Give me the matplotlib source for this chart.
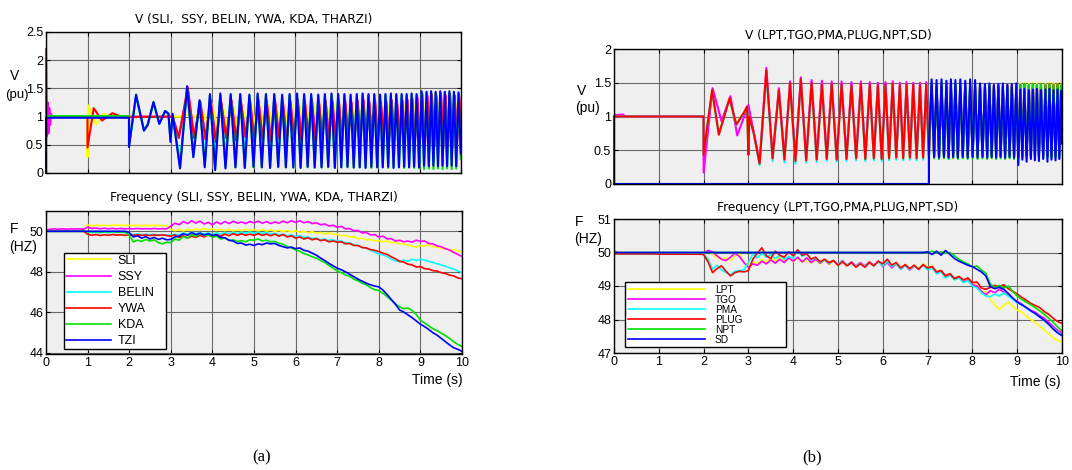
import numpy as np
import matplotlib
matplotlib.use("Agg")
import matplotlib.pyplot as plt
from matplotlib.ticker import FormatStrFormatter

# ---------------------------------------------------------------- data
# time grid of the frequency traces (s)
t_freq = np.linspace(0.0, 10.0, 101)

# (a) frequency traces, Hz, sampled every 0.1 s
a_sli_f = [50.00, 50.00, 50.00, 50.00, 50.00, 50.00, 50.00, 50.00, 50.00, 50.00,
           50.32, 50.26, 50.31, 50.28, 50.30, 50.28, 50.30, 50.29, 50.31, 50.28,
           50.29, 50.28, 50.30, 50.27, 50.29, 50.28, 50.30, 50.28, 50.29, 50.27,
           50.10, 50.03, 50.08, 50.02, 50.09, 50.04, 50.12, 50.06, 50.14, 50.07,
           50.12, 50.04, 50.10, 50.03, 50.09, 50.02, 50.08, 50.03, 50.10, 50.04,
           50.09, 50.02, 50.08, 50.01, 50.07, 50.00, 50.05, 49.99, 50.04, 49.97,
           50.02, 49.95, 50.00, 49.93, 49.98, 49.90, 49.94, 49.87, 49.92, 49.84,
           49.86, 49.78, 49.80, 49.72, 49.74, 49.64, 49.66, 49.57, 49.60, 49.52,
           49.55, 49.48, 49.52, 49.44, 49.46, 49.38, 49.40, 49.30, 49.28, 49.22,
           49.30, 49.26, 49.34, 49.22, 49.24, 49.14, 49.16, 49.06, 49.10, 49.02,
           48.98]
a_ssy_f = [50.05, 50.10, 50.12, 50.10, 50.12, 50.10, 50.12, 50.11, 50.12, 50.10,
           50.20, 50.14, 50.16, 50.12, 50.15, 50.12, 50.14, 50.12, 50.14, 50.12,
           50.13, 50.12, 50.14, 50.12, 50.13, 50.12, 50.14, 50.12, 50.13, 50.12,
           50.25, 50.40, 50.32, 50.48, 50.38, 50.52, 50.40, 50.50, 50.36, 50.44,
           50.32, 50.46, 50.36, 50.48, 50.38, 50.50, 50.40, 50.46, 50.38, 50.48,
           50.42, 50.50, 50.40, 50.48, 50.38, 50.46, 50.40, 50.50, 50.42, 50.52,
           50.44, 50.52, 50.42, 50.48, 50.38, 50.42, 50.32, 50.36, 50.26, 50.30,
           50.20, 50.24, 50.12, 50.14, 50.02, 50.04, 49.92, 49.94, 49.82, 49.84,
           49.72, 49.76, 49.62, 49.64, 49.52, 49.56, 49.48, 49.52, 49.46, 49.56,
           49.50, 49.52, 49.40, 49.38, 49.28, 49.24, 49.14, 49.08, 48.96, 48.86,
           48.76]
a_belin_f = [50.00, 50.00, 50.00, 50.00, 50.00, 50.00, 50.00, 50.00, 50.00, 50.00,
             49.96, 49.94, 49.95, 49.93, 49.95, 49.93, 49.95, 49.94, 49.95, 49.93,
             49.86, 49.84, 49.86, 49.83, 49.85, 49.83, 49.85, 49.82, 49.84, 49.82,
             49.80, 49.86, 49.82, 49.92, 49.85, 49.96, 49.88, 49.94, 49.86, 49.92,
             49.84, 49.92, 49.86, 49.94, 49.88, 49.95, 49.88, 49.96, 49.90, 49.97,
             49.90, 49.96, 49.88, 49.94, 49.86, 49.90, 49.82, 49.86, 49.78, 49.82,
             49.74, 49.78, 49.70, 49.72, 49.64, 49.66, 49.58, 49.62, 49.54, 49.58,
             49.50, 49.52, 49.44, 49.42, 49.34, 49.30, 49.20, 49.16, 49.06, 48.98,
             48.88, 48.84, 48.76, 48.62, 48.54, 48.50, 48.58, 48.52, 48.62, 48.56,
             48.62, 48.58, 48.52, 48.46, 48.40, 48.34, 48.28, 48.20, 48.14, 48.04,
             47.96]
a_ywa_f = [50.00, 50.00, 50.00, 50.00, 50.00, 50.00, 50.00, 50.00, 50.00, 50.00,
           49.86, 49.80, 49.84, 49.79, 49.83, 49.80, 49.84, 49.81, 49.83, 49.80,
           49.82, 49.80, 49.83, 49.80, 49.82, 49.79, 49.82, 49.80, 49.82, 49.79,
           49.76, 49.82, 49.70, 49.78, 49.66, 49.76, 49.70, 49.80, 49.72, 49.82,
           49.74, 49.84, 49.76, 49.86, 49.78, 49.88, 49.80, 49.88, 49.80, 49.86,
           49.80, 49.88, 49.80, 49.86, 49.78, 49.86, 49.76, 49.84, 49.72, 49.78,
           49.66, 49.72, 49.62, 49.68, 49.58, 49.64, 49.54, 49.58, 49.48, 49.52,
           49.46, 49.48, 49.38, 49.40, 49.30, 49.30, 49.20, 49.18, 49.10, 49.06,
           49.00, 48.92, 48.86, 48.74, 48.64, 48.52, 48.48, 48.38, 48.34, 48.24,
           48.26, 48.16, 48.14, 48.06, 48.04, 47.96, 47.92, 47.84, 47.80, 47.70,
           47.66]
a_kda_f = [50.00, 50.00, 50.00, 50.00, 50.00, 50.00, 50.00, 50.00, 50.00, 50.00,
           49.98, 49.97, 49.98, 49.96, 49.98, 49.97, 49.98, 49.96, 49.97, 49.96,
           49.80, 49.48, 49.56, 49.50, 49.60, 49.52, 49.58, 49.44, 49.38, 49.46,
           49.44, 49.62, 49.56, 49.74, 49.66, 49.84, 49.74, 49.90, 49.78, 49.82,
           49.70, 49.76, 49.62, 49.68, 49.54, 49.58, 49.50, 49.54, 49.48, 49.58,
           49.56, 49.62, 49.52, 49.56, 49.48, 49.50, 49.40, 49.36, 49.24, 49.18,
           49.08, 49.02, 48.90, 48.84, 48.74, 48.68, 48.56, 48.46, 48.32, 48.18,
           48.04, 47.96, 47.84, 47.78, 47.64, 47.56, 47.44, 47.36, 47.22, 47.12,
           47.08, 46.94, 46.78, 46.60, 46.42, 46.28, 46.18, 46.22, 46.10, 45.90,
           45.62, 45.48, 45.34, 45.20, 45.10, 44.98, 44.86, 44.72, 44.56, 44.42,
           44.32]
a_tzi_f = [50.00, 50.00, 50.00, 50.00, 50.00, 50.00, 50.00, 50.00, 50.00, 50.00,
           50.00, 50.00, 50.00, 50.00, 50.00, 50.00, 50.00, 50.00, 50.00, 50.00,
           49.94, 49.72, 49.78, 49.66, 49.74, 49.62, 49.70, 49.60, 49.66, 49.58,
           49.60, 49.72, 49.76, 49.88, 49.80, 49.94, 49.84, 49.90, 49.82, 49.88,
           49.80, 49.82, 49.70, 49.68, 49.56, 49.52, 49.40, 49.42, 49.32, 49.36,
           49.30, 49.38, 49.34, 49.42, 49.38, 49.40, 49.30, 49.24, 49.18, 49.22,
           49.14, 49.18, 49.06, 49.02, 48.92, 48.82, 48.68, 48.56, 48.42, 48.30,
           48.18, 48.10, 48.00, 47.88, 47.76, 47.64, 47.54, 47.44, 47.36, 47.30,
           47.26, 47.10, 46.88, 46.64, 46.40, 46.12, 46.02, 45.88, 45.74, 45.58,
           45.42, 45.30, 45.16, 45.00, 44.88, 44.72, 44.56, 44.40, 44.26, 44.18,
           44.08]

# (b) frequency traces, Hz, sampled every 0.1 s
b_lpt_f = [49.96, 49.96, 49.96, 49.96, 49.96, 49.96, 49.96, 49.96, 49.96, 49.96,
           49.96, 49.96, 49.96, 49.96, 49.96, 49.96, 49.96, 49.96, 49.96, 49.96,
           49.98, 50.04, 49.96, 49.86, 49.78, 49.84, 49.76, 49.90, 49.96, 49.70,
           49.60, 49.72, 49.66, 49.80, 49.70, 49.84, 49.74, 49.88, 49.76, 49.86,
           49.72, 49.84, 49.70, 49.80, 49.68, 49.78, 49.66, 49.76, 49.64, 49.74,
           49.62, 49.74, 49.60, 49.72, 49.58, 49.70, 49.60, 49.72, 49.62, 49.74,
           49.60, 49.72, 49.56, 49.66, 49.52, 49.64, 49.50, 49.62, 49.52, 49.66,
           49.54, 49.60, 49.40, 49.48, 49.30, 49.38, 49.22, 49.30, 49.14, 49.20,
           49.06, 49.02, 48.86, 48.82, 48.60, 48.44, 48.30, 48.42, 48.52, 48.40,
           48.28, 48.22, 48.10, 48.00, 47.92, 47.80, 47.70, 47.58, 47.46, 47.38,
           47.32]
b_tgo_f = [50.05, 49.98, 49.97, 49.97, 49.97, 49.97, 49.97, 49.97, 49.97, 49.97,
           49.97, 49.97, 49.97, 49.97, 49.97, 49.97, 49.97, 49.97, 49.97, 49.97,
           49.98, 50.06, 50.02, 49.90, 49.80, 49.76, 49.86, 49.98, 49.88, 49.70,
           49.56, 49.66, 49.62, 49.74, 49.66, 49.78, 49.68, 49.80, 49.70, 49.84,
           49.74, 49.86, 49.72, 49.84, 49.70, 49.80, 49.68, 49.78, 49.66, 49.76,
           49.64, 49.76, 49.62, 49.72, 49.60, 49.70, 49.60, 49.72, 49.62, 49.74,
           49.58, 49.70, 49.54, 49.66, 49.50, 49.62, 49.48, 49.60, 49.50, 49.62,
           49.50, 49.56, 49.40, 49.46, 49.30, 49.36, 49.22, 49.28, 49.12, 49.18,
           49.04, 49.00, 48.84, 48.74, 48.86, 48.80, 48.90, 48.82, 48.72, 48.62,
           48.54, 48.46, 48.36, 48.28, 48.22, 48.12, 48.04, 47.92, 47.80, 47.68,
           47.60]
b_pma_f = [49.96, 49.96, 49.96, 49.96, 49.96, 49.96, 49.96, 49.96, 49.96, 49.96,
           49.96, 49.96, 49.96, 49.96, 49.96, 49.96, 49.96, 49.96, 49.96, 49.96,
           49.96, 49.80, 49.50, 49.62, 49.48, 49.40, 49.34, 49.44, 49.46, 49.48,
           49.70, 49.96, 49.84, 49.98, 49.86, 49.94, 49.82, 49.92, 49.80, 49.88,
           49.82, 50.06, 49.88, 49.96, 49.78, 49.84, 49.70, 49.78, 49.68, 49.76,
           49.64, 49.74, 49.62, 49.70, 49.58, 49.68, 49.58, 49.70, 49.60, 49.72,
           49.60, 49.74, 49.58, 49.66, 49.50, 49.62, 49.50, 49.60, 49.50, 49.62,
           49.48, 49.54, 49.36, 49.42, 49.24, 49.32, 49.18, 49.24, 49.10, 49.16,
           49.00, 48.94, 48.80, 48.70, 48.68, 48.76, 48.70, 48.80, 48.70, 48.60,
           48.50, 48.44, 48.34, 48.26, 48.18, 48.08, 47.98, 47.86, 47.74, 47.62,
           47.52]
b_plug_f = [49.96, 49.96, 49.96, 49.96, 49.96, 49.96, 49.96, 49.96, 49.96, 49.96,
            49.95, 49.95, 49.95, 49.95, 49.95, 49.95, 49.95, 49.95, 49.95, 49.95,
            49.94, 49.72, 49.40, 49.52, 49.60, 49.44, 49.30, 49.40, 49.44, 49.42,
            49.46, 49.80, 49.98, 50.14, 49.90, 49.82, 50.04, 49.92, 49.86, 50.02,
            49.90, 50.08, 49.92, 49.96, 49.80, 49.86, 49.72, 49.80, 49.70, 49.76,
            49.62, 49.72, 49.60, 49.70, 49.56, 49.66, 49.56, 49.70, 49.60, 49.74,
            49.66, 49.80, 49.62, 49.70, 49.54, 49.64, 49.52, 49.62, 49.50, 49.64,
            49.54, 49.58, 49.42, 49.46, 49.30, 49.36, 49.22, 49.28, 49.18, 49.24,
            49.10, 49.12, 48.94, 48.90, 48.96, 49.02, 48.98, 49.04, 48.92, 48.84,
            48.76, 48.66, 48.58, 48.48, 48.42, 48.36, 48.24, 48.16, 48.04, 47.94,
            47.88]
b_npt_f = [50.00, 50.00, 50.00, 50.00, 50.00, 50.00, 50.00, 50.00, 50.00, 50.00,
           50.00, 50.00, 50.00, 50.00, 50.00, 50.00, 50.00, 50.00, 50.00, 50.00,
           50.00, 50.00, 50.00, 50.00, 50.00, 50.00, 50.00, 50.00, 50.00, 50.00,
           50.00, 50.00, 50.00, 50.00, 50.00, 50.00, 50.00, 50.00, 50.00, 50.00,
           50.00, 50.00, 50.00, 50.00, 50.00, 50.00, 50.00, 50.00, 50.00, 50.00,
           50.00, 50.00, 50.00, 50.00, 50.00, 50.00, 50.00, 50.00, 50.00, 50.00,
           50.00, 50.00, 50.00, 50.00, 50.00, 50.00, 50.00, 50.00, 50.00, 50.00,
           50.00, 50.04, 49.98, 50.02, 49.98, 50.00, 49.90, 49.80, 49.72, 49.66,
           49.56, 49.60, 49.48, 49.38, 49.06, 48.96, 49.02, 48.94, 49.00, 48.84,
           48.70, 48.60, 48.52, 48.44, 48.36, 48.26, 48.16, 48.04, 47.92, 47.78,
           47.66]
b_sd_f = [50.00, 50.00, 50.00, 50.00, 50.00, 50.00, 50.00, 50.00, 50.00, 50.00,
          50.00, 50.00, 50.00, 50.00, 50.00, 50.00, 50.00, 50.00, 50.00, 50.00,
          50.00, 50.00, 50.00, 50.00, 50.00, 50.00, 50.00, 50.00, 50.00, 50.00,
          50.00, 50.00, 50.00, 50.00, 50.00, 50.00, 50.00, 50.00, 50.00, 50.00,
          50.00, 50.00, 50.00, 50.00, 50.00, 50.00, 50.00, 50.00, 50.00, 50.00,
          50.00, 50.00, 50.00, 50.00, 50.00, 50.00, 50.00, 50.00, 50.00, 50.00,
          50.00, 50.00, 50.00, 50.00, 50.00, 50.00, 50.00, 50.00, 50.00, 50.00,
          50.02, 49.94, 50.04, 49.92, 50.06, 49.94, 49.82, 49.74, 49.68, 49.62,
          49.58, 49.50, 49.42, 49.30, 48.98, 48.92, 48.96, 48.90, 48.78, 48.64,
          48.52, 48.44, 48.36, 48.26, 48.18, 48.08, 47.98, 47.86, 47.72, 47.60,
          47.52]

# (a) voltage: transient before the sustained swing (time s, value pu)
a_sli_pre_t = [0.0, 1.0, 1.0, 1.02, 1.2, 1.4, 1.6, 1.8, 3.25]
a_sli_pre_v = [1.0, 1.0, 0.28, 1.2, 0.86, 1.05, 0.97, 1.0, 1.0]
a_ssy_pre_t = [0.0, 0.0, 0.02, 0.04, 0.06, 0.08, 0.10, 0.12, 0.15, 3.05, 3.2]
a_ssy_pre_v = [1.0, 2.2, 0.65, 1.25, 0.7, 1.15, 0.85, 1.05, 1.0, 1.0, 0.65]
a_belin_pre_t = [0.0, 2.0, 2.0, 2.17, 2.36, 2.45, 2.59, 2.73, 2.87, 2.95, 3.0, 3.05, 3.23]
a_belin_pre_v = [1.0, 1.0, 0.48, 1.36, 0.77, 0.86, 1.24, 0.88, 1.09, 1.06, 0.6, 1.02, 0.2]
a_ywa_pre_t = [0.0, 1.0, 1.0, 1.15, 1.35, 1.6, 1.85, 3.05, 3.2]
a_ywa_pre_v = [1.0, 1.0, 0.45, 1.15, 0.93, 1.06, 0.99, 1.0, 0.62]
a_kda_pre_t = [0.0, 2.0, 2.0, 2.17, 2.36, 2.45, 2.59, 2.73, 2.87, 2.95, 3.0, 3.05, 3.23]
a_kda_pre_v = [1.01, 1.01, 0.5, 1.37, 0.76, 0.86, 1.25, 0.88, 1.1, 1.06, 0.57, 1.04, 0.1]
a_tzi_pre_t = [0.0, 0.0, 0.03, 2.0, 2.0, 2.17, 2.36, 2.45, 2.59, 2.73, 2.87, 2.95, 3.0, 3.05, 3.23]
a_tzi_pre_v = [0.0, 0.98, 0.98, 0.98, 0.46, 1.39, 0.75, 0.85, 1.26, 0.87, 1.1, 1.05, 0.55, 1.05, 0.08]

# (a) voltage swing: crest times (s), crest and dip values (pu)
a_peak_t = [3.40, 3.70, 3.95, 4.20, 4.45, 4.68, 4.90, 5.10, 5.30, 5.50,
            5.69, 5.87, 6.05, 6.22, 6.39, 6.56, 6.72, 6.88, 7.04, 7.19,
            7.34, 7.49, 7.63, 7.77, 7.91, 8.05, 8.18, 8.31, 8.44, 8.57,
            8.69, 8.81, 8.93, 9.05, 9.17, 9.28, 9.39, 9.50, 9.61, 9.72,
            9.83, 9.94]
a_sli_pk = [1.05, 1.15, 1.22, 1.22, 1.20, 1.22, 1.21, 1.20, 1.22, 1.21,
            1.20, 1.22, 1.21, 1.20, 1.22, 1.21, 1.20, 1.22, 1.21, 1.20,
            1.22, 1.21, 1.20, 1.22, 1.21, 1.20, 1.22, 1.21, 1.20, 1.22,
            1.21, 1.22, 1.23, 1.26, 1.25, 1.26, 1.25, 1.26, 1.25, 1.26,
            1.25, 1.24]
a_sli_tr = [0.98, 0.90, 0.82, 0.80, 0.82, 0.80, 0.83, 0.80, 0.82, 0.80,
            0.83, 0.80, 0.82, 0.80, 0.83, 0.80, 0.82, 0.80, 0.83, 0.80,
            0.82, 0.80, 0.83, 0.80, 0.82, 0.80, 0.83, 0.80, 0.82, 0.80,
            0.80, 0.78, 0.76, 0.72, 0.74, 0.72, 0.74, 0.72, 0.74, 0.72,
            0.74, 0.85]
a_ssy_pk = [1.48, 1.25, 1.28, 1.26, 1.28, 1.25, 1.27, 1.29, 1.26, 1.28,
            1.25, 1.27, 1.28, 1.26, 1.29, 1.25, 1.27, 1.28, 1.26, 1.28,
            1.25, 1.27, 1.29, 1.26, 1.28, 1.25, 1.27, 1.28, 1.26, 1.28,
            1.29, 1.31, 1.33, 1.38, 1.36, 1.37, 1.35, 1.38, 1.36, 1.37,
            1.35, 1.34]
a_ssy_tr = [0.64, 0.62, 0.58, 0.64, 0.60, 0.66, 0.58, 0.62, 0.60, 0.65,
            0.58, 0.62, 0.60, 0.64, 0.58, 0.62, 0.60, 0.65, 0.58, 0.62,
            0.60, 0.64, 0.58, 0.62, 0.60, 0.65, 0.58, 0.62, 0.60, 0.64,
            0.58, 0.54, 0.52, 0.46, 0.49, 0.47, 0.50, 0.46, 0.49, 0.47,
            0.50, 0.62]
a_belin_pk = [1.45, 1.25, 1.33, 1.35, 1.34, 1.35, 1.34, 1.35, 1.34, 1.35,
              1.34, 1.35, 1.34, 1.35, 1.34, 1.35, 1.34, 1.35, 1.34, 1.35,
              1.34, 1.35, 1.34, 1.35, 1.34, 1.35, 1.34, 1.35, 1.34, 1.35,
              1.34, 1.35, 1.36, 1.40, 1.39, 1.40, 1.39, 1.40, 1.39, 1.40,
              1.39, 1.38]
a_belin_tr = [0.35, 0.30, 0.25, 0.30, 0.35, 0.40, 0.42, 0.40, 0.44, 0.42,
              0.45, 0.40, 0.43, 0.45, 0.42, 0.44, 0.40, 0.43, 0.45, 0.42,
              0.40, 0.44, 0.42, 0.45, 0.41, 0.43, 0.40, 0.44, 0.42, 0.40,
              0.38, 0.35, 0.30, 0.25, 0.28, 0.24, 0.26, 0.25, 0.28, 0.24,
              0.26, 0.35]
a_ywa_pk = [1.52, 1.27, 1.30, 1.28, 1.30, 1.27, 1.29, 1.31, 1.28, 1.30,
            1.27, 1.29, 1.30, 1.28, 1.31, 1.27, 1.29, 1.30, 1.28, 1.30,
            1.27, 1.29, 1.31, 1.28, 1.30, 1.27, 1.29, 1.30, 1.28, 1.30,
            1.31, 1.33, 1.35, 1.41, 1.39, 1.40, 1.38, 1.41, 1.39, 1.40,
            1.38, 1.37]
a_ywa_tr = [0.62, 0.60, 0.55, 0.62, 0.58, 0.64, 0.55, 0.60, 0.57, 0.63,
            0.55, 0.60, 0.58, 0.62, 0.56, 0.60, 0.58, 0.63, 0.55, 0.60,
            0.57, 0.62, 0.56, 0.60, 0.58, 0.63, 0.55, 0.60, 0.57, 0.62,
            0.56, 0.52, 0.50, 0.44, 0.47, 0.45, 0.48, 0.44, 0.47, 0.45,
            0.48, 0.60]
a_kda_pk = [1.50, 1.27, 1.38, 1.39, 1.38, 1.38, 1.37, 1.39, 1.38, 1.38,
            1.37, 1.38, 1.39, 1.38, 1.38, 1.37, 1.38, 1.39, 1.38, 1.38,
            1.37, 1.38, 1.39, 1.38, 1.38, 1.37, 1.38, 1.39, 1.38, 1.38,
            1.38, 1.39, 1.38, 1.43, 1.42, 1.43, 1.42, 1.43, 1.42, 1.43,
            1.42, 1.41]
a_kda_tr = [0.30, 0.14, 0.08, 0.10, 0.10, 0.09, 0.10, 0.10, 0.09, 0.10,
            0.10, 0.09, 0.10, 0.10, 0.09, 0.10, 0.10, 0.09, 0.10, 0.10,
            0.09, 0.10, 0.10, 0.09, 0.10, 0.10, 0.09, 0.10, 0.10, 0.09,
            0.10, 0.09, 0.08, 0.07, 0.08, 0.07, 0.08, 0.07, 0.08, 0.07,
            0.08, 0.25]
a_tzi_pk = [1.54, 1.29, 1.40, 1.41, 1.40, 1.40, 1.39, 1.41, 1.40, 1.40,
            1.39, 1.40, 1.41, 1.40, 1.40, 1.39, 1.40, 1.41, 1.40, 1.40,
            1.39, 1.40, 1.41, 1.40, 1.40, 1.39, 1.40, 1.41, 1.40, 1.40,
            1.40, 1.41, 1.40, 1.45, 1.44, 1.45, 1.44, 1.45, 1.44, 1.45,
            1.44, 1.43]
a_tzi_tr = [0.28, 0.10, 0.05, 0.08, 0.10, 0.09, 0.11, 0.10, 0.09, 0.11,
            0.10, 0.10, 0.09, 0.11, 0.10, 0.10, 0.11, 0.09, 0.10, 0.11,
            0.10, 0.10, 0.09, 0.11, 0.10, 0.10, 0.11, 0.09, 0.10, 0.11,
            0.10, 0.11, 0.10, 0.13, 0.12, 0.13, 0.12, 0.13, 0.12, 0.13,
            0.12, 0.35]

# (b) voltage: transient before the sustained swing (time s, value pu)
b_lpt_pre_t = [0.0, 2.0, 2.0, 2.05, 2.19, 2.34, 2.58, 2.73, 2.91, 2.97, 3.0, 3.02, 3.12, 3.25]
b_lpt_pre_v = [1.0, 1.0, 0.44, 0.7, 1.38, 0.74, 1.27, 0.88, 1.07, 1.14, 0.44, 1.0, 0.75, 0.29]
b_tgo_pre_t = [0.0, 0.02, 0.05, 0.2, 0.25, 2.0, 2.0, 2.2, 2.4, 2.6, 2.75, 3.0, 3.05, 3.25]
b_tgo_pre_v = [1.0, 1.03, 1.02, 1.03, 1.0, 1.0, 0.17, 1.42, 0.93, 1.3, 0.72, 1.17, 1.0, 0.33]
b_pma_pre_t = [0.0, 2.0, 2.0, 2.05, 2.19, 2.34, 2.58, 2.73, 2.91, 2.97, 3.0, 3.02, 3.12, 3.25]
b_pma_pre_v = [1.0, 1.0, 0.45, 0.7, 1.37, 0.74, 1.26, 0.87, 1.06, 1.13, 0.45, 0.99, 0.74, 0.28]
b_plug_pre_t = [0.0, 0.0, 2.0, 2.0, 2.05, 2.19, 2.34, 2.58, 2.73, 2.91, 2.97, 3.0, 3.02, 3.12, 3.25]
b_plug_pre_v = [0.0, 1.0, 1.0, 0.43, 0.7, 1.39, 0.73, 1.27, 0.88, 1.07, 1.15, 0.43, 1.0, 0.75, 0.30]
b_npt_pre_t = [0.0, 7.03, 7.03]
b_npt_pre_v = [0.0, 0.0, 0.60]
b_sd_pre_t = [0.0, 7.03, 7.03]
b_sd_pre_v = [0.0, 0.0, 0.62]

# (b) voltage swing: crest times (s), crest and dip values (pu)
b_peak_t = [3.40, 3.68, 3.93, 4.17, 4.41, 4.64, 4.86, 5.08, 5.30, 5.51,
            5.71, 5.89, 6.06, 6.22, 6.38, 6.53, 6.68, 6.83, 6.97, 7.09,
            7.20, 7.31, 7.42, 7.52, 7.62, 7.73, 7.84, 7.95, 8.06, 8.17,
            8.28, 8.38, 8.48, 8.58, 8.68, 8.78, 8.88, 8.98, 9.07, 9.16,
            9.26, 9.35, 9.44, 9.53, 9.63, 9.72, 9.81, 9.90, 9.98]
b_lpt_pk = [1.66, 1.38, 1.48, 1.54, 1.49, 1.46, 1.47, 1.46, 1.45, 1.47,
            1.46, 1.45, 1.46, 1.47, 1.45, 1.46, 1.46, 1.45, 1.46, 1.44,
            1.43, 1.44, 1.42, 1.44, 1.43, 1.42, 1.44, 1.43, 1.42, 1.44,
            1.43, 1.42, 1.44, 1.43, 1.42, 1.44, 1.43, 1.42, 1.49, 1.50,
            1.49, 1.50, 1.49, 1.50, 1.49, 1.50, 1.49, 1.50, 1.48]
b_lpt_tr = [0.37, 0.35, 0.33, 0.34, 0.35, 0.36, 0.35, 0.36, 0.37, 0.36,
            0.37, 0.36, 0.37, 0.38, 0.37, 0.38, 0.37, 0.38, 0.39, 0.41,
            0.40, 0.41, 0.40, 0.41, 0.40, 0.41, 0.40, 0.41, 0.40, 0.41,
            0.40, 0.41, 0.40, 0.41, 0.40, 0.41, 0.40, 0.41, 0.40, 0.41,
            0.40, 0.41, 0.40, 0.41, 0.40, 0.41, 0.40, 0.41, 0.80]
b_tgo_pk = [1.72, 1.42, 1.52, 1.58, 1.54, 1.53, 1.52, 1.52, 1.51, 1.52,
            1.51, 1.50, 1.51, 1.52, 1.50, 1.51, 1.50, 1.50, 1.51, 1.45,
            1.44, 1.45, 1.43, 1.45, 1.44, 1.43, 1.45, 1.44, 1.43, 1.45,
            1.44, 1.43, 1.45, 1.44, 1.43, 1.45, 1.44, 1.43, 1.46, 1.47,
            1.46, 1.47, 1.46, 1.47, 1.46, 1.47, 1.46, 1.47, 1.45]
b_tgo_tr = [0.40, 0.38, 0.36, 0.37, 0.38, 0.39, 0.38, 0.39, 0.40, 0.39,
            0.40, 0.39, 0.40, 0.41, 0.40, 0.41, 0.40, 0.41, 0.42, 0.43,
            0.42, 0.43, 0.42, 0.43, 0.42, 0.43, 0.42, 0.43, 0.42, 0.43,
            0.42, 0.43, 0.42, 0.43, 0.42, 0.43, 0.42, 0.43, 0.42, 0.43,
            0.42, 0.43, 0.42, 0.43, 0.42, 0.43, 0.42, 0.43, 0.80]
b_pma_pk = [1.62, 1.36, 1.46, 1.52, 1.47, 1.45, 1.46, 1.45, 1.44, 1.46,
            1.45, 1.44, 1.45, 1.46, 1.44, 1.45, 1.45, 1.44, 1.45, 1.44,
            1.43, 1.44, 1.42, 1.44, 1.43, 1.42, 1.44, 1.43, 1.42, 1.44,
            1.43, 1.42, 1.44, 1.43, 1.42, 1.44, 1.43, 1.42, 1.45, 1.46,
            1.45, 1.46, 1.45, 1.46, 1.45, 1.46, 1.45, 1.46, 1.44]
b_pma_tr = [0.34, 0.32, 0.30, 0.32, 0.33, 0.34, 0.33, 0.34, 0.35, 0.34,
            0.35, 0.34, 0.35, 0.36, 0.35, 0.36, 0.35, 0.36, 0.37, 0.40,
            0.39, 0.40, 0.39, 0.40, 0.39, 0.40, 0.39, 0.40, 0.39, 0.40,
            0.39, 0.40, 0.39, 0.40, 0.39, 0.40, 0.39, 0.40, 0.39, 0.40,
            0.39, 0.40, 0.39, 0.40, 0.39, 0.40, 0.39, 0.40, 0.80]
b_plug_pk = [1.68, 1.39, 1.49, 1.55, 1.50, 1.47, 1.48, 1.47, 1.46, 1.48,
             1.47, 1.46, 1.47, 1.48, 1.46, 1.47, 1.47, 1.46, 1.47, 1.46,
             1.45, 1.46, 1.44, 1.46, 1.45, 1.44, 1.46, 1.45, 1.44, 1.46,
             1.45, 1.44, 1.46, 1.45, 1.44, 1.46, 1.45, 1.44, 1.47, 1.48,
             1.47, 1.48, 1.47, 1.48, 1.47, 1.48, 1.47, 1.48, 1.46]
b_plug_tr = [0.38, 0.36, 0.34, 0.35, 0.36, 0.37, 0.36, 0.37, 0.38, 0.37,
             0.38, 0.37, 0.38, 0.39, 0.38, 0.39, 0.38, 0.39, 0.40, 0.42,
             0.41, 0.42, 0.41, 0.42, 0.41, 0.42, 0.41, 0.42, 0.41, 0.42,
             0.41, 0.42, 0.41, 0.42, 0.41, 0.42, 0.41, 0.42, 0.41, 0.42,
             0.41, 0.42, 0.41, 0.42, 0.41, 0.42, 0.41, 0.42, 0.80]
# NPT and SD only swing after they are reconnected (last 30 crests)
b_npt_pk = [1.50, 1.49, 1.50, 1.48, 1.50, 1.49, 1.50, 1.48, 1.50, 1.49,
            1.46, 1.45, 1.46, 1.44, 1.45, 1.46, 1.44, 1.45, 1.46, 1.47,
            1.48, 1.47, 1.48, 1.47, 1.48, 1.47, 1.48, 1.47, 1.48, 1.46]
b_npt_tr = [0.38, 0.37, 0.38, 0.37, 0.38, 0.37, 0.38, 0.37, 0.38, 0.37,
            0.38, 0.37, 0.38, 0.37, 0.38, 0.37, 0.38, 0.37, 0.38, 0.40,
            0.39, 0.40, 0.39, 0.40, 0.39, 0.40, 0.39, 0.40, 0.39, 0.70]
b_sd_pk = [1.55, 1.54, 1.55, 1.53, 1.55, 1.54, 1.55, 1.53, 1.55, 1.54,
           1.49, 1.48, 1.49, 1.47, 1.48, 1.49, 1.47, 1.48, 1.49, 1.40,
           1.41, 1.39, 1.40, 1.41, 1.39, 1.40, 1.41, 1.39, 1.40, 1.38]
b_sd_tr = [0.40, 0.39, 0.40, 0.39, 0.40, 0.39, 0.40, 0.39, 0.40, 0.39,
           0.40, 0.39, 0.40, 0.39, 0.40, 0.39, 0.40, 0.39, 0.28, 0.36,
           0.33, 0.37, 0.35, 0.34, 0.37, 0.33, 0.36, 0.35, 0.37, 0.60]

a_names = ["SLI", "SSY", "BELIN", "YWA", "KDA", "TZI"]
b_names = ["LPT", "TGO", "PMA", "PLUG", "NPT", "SD"]
colors = ["#ffff00", "#ff00ff", "#00ffff", "#ff0000", "#00e000", "#0000ff"]

# ---------------------------------------------------------------- helpers
W, H = 1072, 470
fig = plt.figure(figsize=(W / 100, H / 100), dpi=100)


def axes_px(x0, y0, x1, y1):
    return fig.add_axes([x0 / W, 1 - y1 / H, (x1 - x0) / W, (y1 - y0) / H])


def text_px(x, y, s, **kw):
    fig.text(x / W, 1 - y / H, s, ha="center", va="center", **kw)


def swing(pre_t, pre_v, crest_t, pk, tr, shift=0.0):
    """Transient followed by alternating crests and dips."""
    ct = np.asarray(crest_t[-len(pk):], dtype=float) + shift
    nxt = np.append(ct[1:], ct[-1] + (ct[-1] - ct[-2]))
    dt = np.minimum((ct + nxt) / 2.0, 10.0)
    t = np.concatenate([pre_t, np.column_stack([ct, dt]).ravel()])
    v = np.concatenate([pre_v, np.column_stack([pk, tr]).ravel()])
    return t, v


def style(ax, ylim, yticks, xlabels):
    ax.set_facecolor("#efefef")
    ax.set_xlim(0, 10)
    ax.set_ylim(*ylim)
    ax.set_xticks(range(11))
    ax.set_yticks(yticks)
    ax.yaxis.set_major_formatter(FormatStrFormatter("%g"))
    ax.grid(True, color="#6a6a6a", lw=0.8)
    ax.set_axisbelow(True)
    ax.tick_params(direction="in", length=3, width=0.8, top=True, right=True,
                   labelsize=9, pad=2, colors="black")
    for lab in ax.get_xticklabels() + ax.get_yticklabels():
        lab.set_fontfamily("Liberation Sans")
    if not xlabels:
        ax.set_xticklabels([])
    for s in ax.spines.values():
        s.set_color("black")
        s.set_linewidth(1.0)


# ---------------------------------------------------------------- axes
ax_av = axes_px(46, 32, 461, 173)
ax_af = axes_px(46, 211, 462, 354)
ax_bv = axes_px(614, 49, 1062, 184)
ax_bf = axes_px(614, 219, 1062, 353)

style(ax_av, (0, 2.5), [0, 0.5, 1, 1.5, 2, 2.5], False)
style(ax_af, (43.95, 51), [44, 46, 48, 50], True)
style(ax_bv, (0, 2), [0, 0.5, 1, 1.5, 2], False)
style(ax_bf, (47, 51), [47, 48, 49, 50, 51], True)

# (a) voltage
a_volt = [
    swing(a_sli_pre_t, a_sli_pre_v, a_peak_t, a_sli_pk, a_sli_tr, 0.05),
    swing(a_ssy_pre_t, a_ssy_pre_v, a_peak_t, a_ssy_pk, a_ssy_tr, 0.02),
    swing(a_belin_pre_t, a_belin_pre_v, a_peak_t, a_belin_pk, a_belin_tr),
    swing(a_ywa_pre_t, a_ywa_pre_v, a_peak_t, a_ywa_pk, a_ywa_tr, 0.015),
    swing(a_kda_pre_t, a_kda_pre_v, a_peak_t, a_kda_pk, a_kda_tr),
    swing(a_tzi_pre_t, a_tzi_pre_v, a_peak_t, a_tzi_pk, a_tzi_tr),
]
for (t, v), c in zip(a_volt, colors):
    ax_av.plot(t, v, color=c, lw=1.5, clip_on=False, solid_joinstyle="round")

# (b) voltage
b_volt = [
    swing(b_lpt_pre_t, b_lpt_pre_v, b_peak_t, b_lpt_pk, b_lpt_tr),
    swing(b_tgo_pre_t, b_tgo_pre_v, b_peak_t, b_tgo_pk, b_tgo_tr),
    swing(b_pma_pre_t, b_pma_pre_v, b_peak_t, b_pma_pk, b_pma_tr),
    swing(b_plug_pre_t, b_plug_pre_v, b_peak_t, b_plug_pk, b_plug_tr),
    swing(b_npt_pre_t, b_npt_pre_v, b_peak_t, b_npt_pk, b_npt_tr),
    swing(b_sd_pre_t, b_sd_pre_v, b_peak_t, b_sd_pk, b_sd_tr),
]
for (t, v), c in zip(b_volt, colors):
    ax_bv.plot(t, v, color=c, lw=1.5, clip_on=False, solid_joinstyle="round")

# frequencies
for f, c, n in zip([a_sli_f, a_ssy_f, a_belin_f, a_ywa_f, a_kda_f, a_tzi_f], colors, a_names):
    ax_af.plot(t_freq, f, color=c, lw=1.2, label=n)
for f, c, n in zip([b_lpt_f, b_tgo_f, b_pma_f, b_plug_f, b_npt_f, b_sd_f], colors, b_names):
    ax_bf.plot(t_freq, f, color=c, lw=1.2, label=n)

leg_a = ax_af.legend(loc="upper left", bbox_to_anchor=(18 / 416, 101 / 143, 102 / 416, 0),
                     mode="expand", borderaxespad=0, fancybox=False, framealpha=1,
                     edgecolor="black", facecolor="white", handlelength=3.6,
                     handletextpad=0.55, labelspacing=0.33, borderpad=0.15,
                     prop={"family": "Liberation Sans", "size": 9})
leg_a.get_frame().set_linewidth(1.0)
leg_b = ax_bf.legend(loc="upper left", bbox_to_anchor=(11 / 448, 71 / 134, 161 / 448, 0),
                     mode="expand", borderaxespad=0, fancybox=False, framealpha=1,
                     edgecolor="black", facecolor="white", handlelength=7.6,
                     handletextpad=1.0, labelspacing=0.0, borderpad=0.25,
                     prop={"family": "Liberation Sans", "size": 7.3})
leg_b.get_frame().set_linewidth(1.0)

# ---------------------------------------------------------------- text
title_kw = dict(fontsize=8.7, family="DejaVu Sans")
text_px(253.5, 20, "V (SLI,  SSY, BELIN, YWA, KDA, THARZI)", **title_kw)
text_px(254, 197, "Frequency (SLI, SSY, BELIN, YWA, KDA, THARZI)", **title_kw)
text_px(838, 36, "V (LPT,TGO,PMA,PLUG,NPT,SD)", **title_kw)
text_px(838, 207, "Frequency (LPT,TGO,PMA,PLUG,NPT,SD)", **title_kw)

lab_kw = dict(fontsize=10, family="Liberation Sans")
text_px(15, 76, "V", **lab_kw)
text_px(17, 95, "(pu)", fontsize=9.5, family="Liberation Sans")
text_px(14, 229, "F", **lab_kw)
text_px(23, 247, "(HZ)", **lab_kw)
text_px(582, 91, "V", **lab_kw)
text_px(588, 108, "(pu)", **lab_kw)
text_px(579, 222, "F", **lab_kw)
text_px(588, 239, "(HZ)", **lab_kw)
text_px(437, 380, "Time (s)", **lab_kw)
text_px(1035, 382, "Time (s)", **lab_kw)

text_px(262, 457, "(a)", fontsize=12, family="Liberation Serif")
text_px(812, 457, "(b)", fontsize=12, family="Liberation Serif")

fig.savefig("out.png", dpi=100, facecolor="white")
